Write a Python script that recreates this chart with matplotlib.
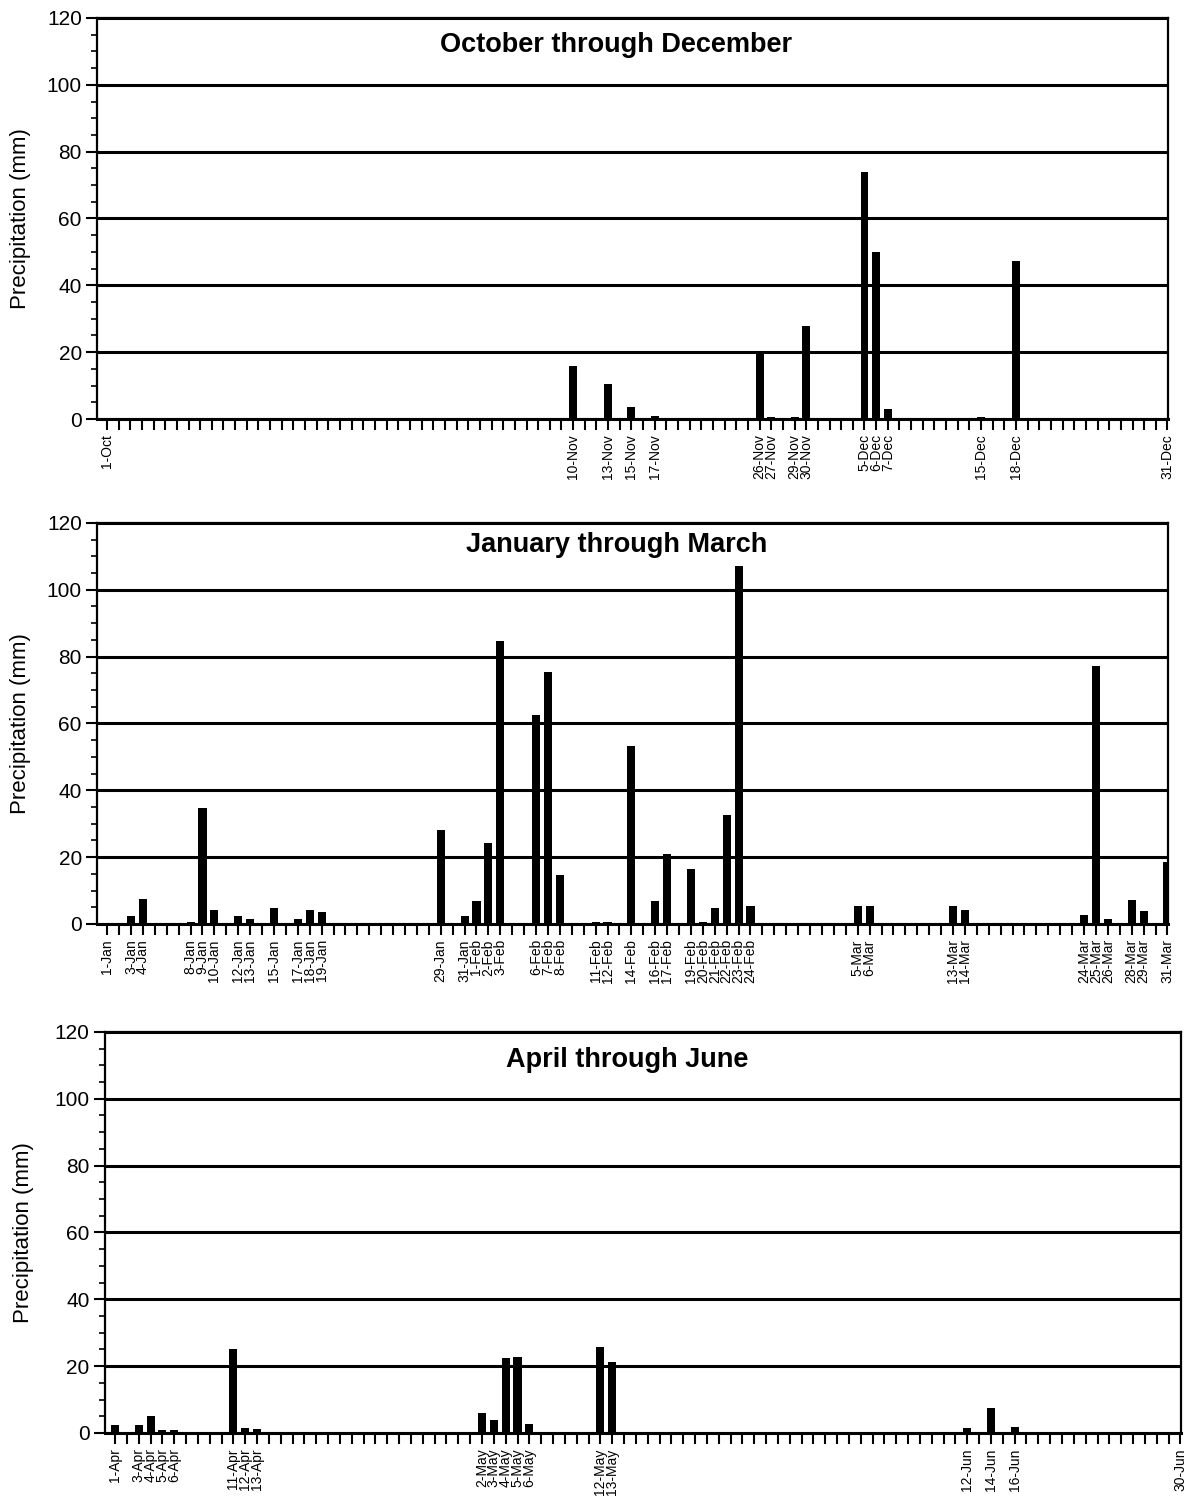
import matplotlib
matplotlib.use("Agg")
import matplotlib.pyplot as plt
from matplotlib.ticker import MultipleLocator
import numpy as np
import pandas as pd

plt.rcParams['font.family'] = ['Liberation Sans', 'DejaVu Sans']

# rainy days per quarter (day label, precipitation in mm), all other days are 0
oct_dec_days = ["10-Nov", "13-Nov", "15-Nov", "17-Nov", "26-Nov", "27-Nov", "29-Nov",
                "30-Nov", "5-Dec", "6-Dec", "7-Dec", "15-Dec", "18-Dec"]
oct_dec_mm = [16, 10.5, 3.7, 0.8, 20, 0.5, 0.5, 27.8, 74, 50, 3, 0.5, 47.4]

jan_mar_days = ["3-Jan", "4-Jan", "8-Jan", "9-Jan", "10-Jan", "12-Jan", "13-Jan", "15-Jan",
                "17-Jan", "18-Jan", "19-Jan", "29-Jan", "31-Jan", "1-Feb", "2-Feb", "3-Feb",
                "6-Feb", "7-Feb", "8-Feb", "11-Feb", "12-Feb", "14-Feb", "16-Feb", "17-Feb",
                "19-Feb", "20-Feb", "21-Feb", "22-Feb", "23-Feb", "24-Feb", "5-Mar", "6-Mar",
                "13-Mar", "14-Mar", "24-Mar", "25-Mar", "26-Mar", "28-Mar", "29-Mar", "31-Mar"]
jan_mar_mm = [2.5, 7.5, 0.6, 34.8, 4.2, 2.5, 1.4, 4.7, 1.5, 4.2, 3.6, 28.2, 2.4, 6.8, 24.2, 84.8,
              62.5, 75.5, 14.6, 0.5, 0.5, 53.3, 6.8, 21, 16.4, 0.5, 4.8, 32.7, 107, 5.3, 5.4, 5.3,
              5.3, 4.2, 2.6, 77.2, 1.4, 7.1, 3.8, 18.4]

apr_jun_days = ["1-Apr", "3-Apr", "4-Apr", "5-Apr", "6-Apr", "11-Apr", "12-Apr", "13-Apr",
                "2-May", "3-May", "4-May", "5-May", "6-May", "12-May", "13-May",
                "12-Jun", "14-Jun", "16-Jun"]
apr_jun_mm = [2.5, 2.5, 5.1, 1, 1, 25, 1.5, 1.1, 6.1, 4, 22.3, 22.7, 2.6, 25.6, 21.2,
              1.5, 7.5, 1.8]

panels = [
    ("October through December", "1996-10-01", "1996-12-31", oct_dec_days, oct_dec_mm,
     [0.0819, 0.7225, 0.9038, 0.2656], 0.933, -0.062),
    ("January through March", "1997-01-01", "1997-03-31", jan_mar_days, jan_mar_mm,
     [0.0819, 0.3881, 0.9038, 0.2656], 0.945, -0.062),
    ("April through June", "1997-04-01", "1997-06-30", apr_jun_days, apr_jun_mm,
     [0.0886, 0.0510, 0.9080, 0.2656], 0.93, -0.066),
]

fig = plt.figure(figsize=(11.85, 15.10), dpi=100)

for title, start, end, days, mm, pos, ty, lx in panels:
    dates = pd.date_range(start, end)
    labels = [f"{d.day}-{d.strftime('%b')}" for d in dates]
    vals = pd.Series(0.0, index=labels)
    vals[days] = mm
    x = np.arange(len(labels))

    ax = fig.add_axes(pos)
    ax.bar(x, vals.values, width=0.68, color='black', zorder=3)

    ax.set_xlim(-0.85, len(labels) - 0.95)
    ax.set_ylim(0, 120)
    ax.yaxis.set_major_locator(MultipleLocator(20))
    ax.yaxis.set_minor_locator(MultipleLocator(5))
    ax.grid(axis='y', color='black', linewidth=2.2, zorder=1)

    shown = [lab if (vals[lab] > 0 or i == 0 or i == len(labels) - 1) else ""
             for i, lab in enumerate(labels)]
    ax.set_xticks(x)
    ax.set_xticklabels(shown, rotation=90, fontsize=10)
    ax.tick_params(axis='x', direction='out', length=8, width=1.5, pad=3)
    ax.tick_params(axis='y', which='major', direction='out', length=8, width=1.5,
                   labelsize=15, pad=3)
    ax.tick_params(axis='y', which='minor', direction='out', length=4, width=1.2)
    for s in ax.spines.values():
        s.set_linewidth(1.6)
    ax.spines['bottom'].set_linewidth(2.2)

    ax.set_ylabel("Precipitation (mm)", fontsize=16)
    ax.yaxis.set_label_coords(lx, 0.5)
    ax.text(0.485, ty, title, transform=ax.transAxes, ha='center', va='center',
            fontsize=19.5, fontweight='bold')

fig.savefig("out.png", dpi=100)
